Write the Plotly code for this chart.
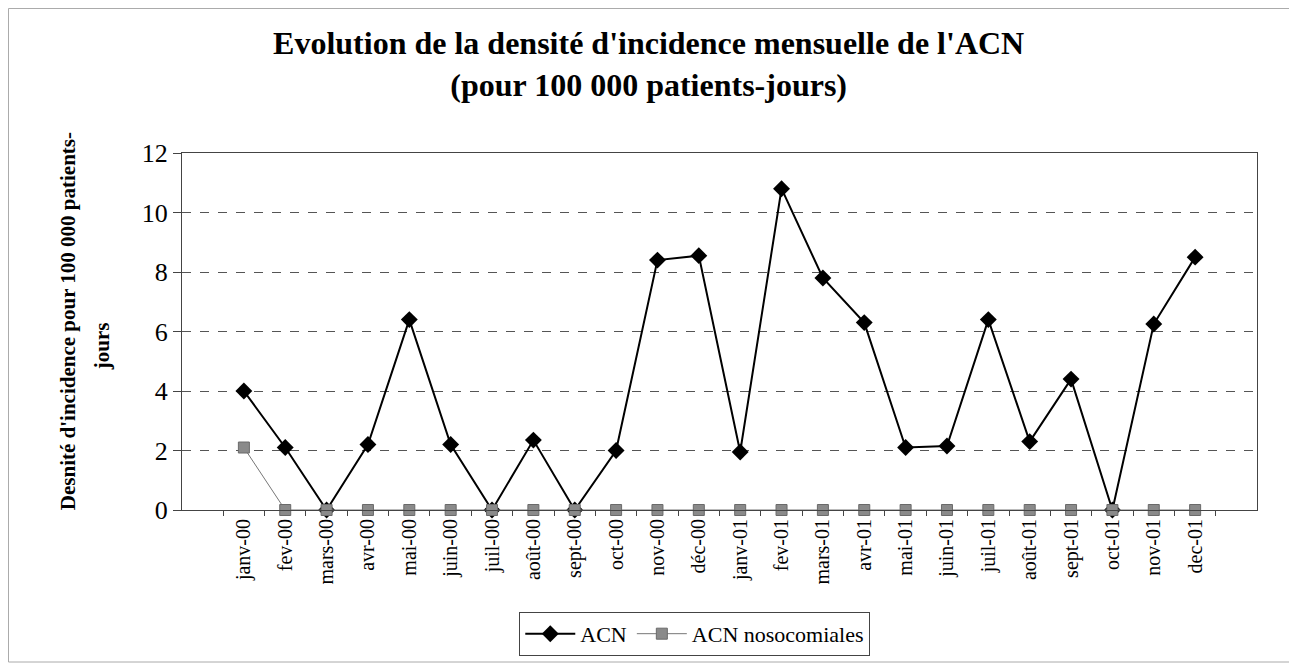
import plotly.graph_objects as go

# Mois (axe des x)
mois = ['janv-00', 'fev-00', 'mars-00', 'avr-00', 'mai-00', 'juin-00', 'juil-00', 'août-00',
        'sept-00', 'oct-00', 'nov-00', 'déc-00', 'janv-01', 'fev-01', 'mars-01', 'avr-01',
        'mai-01', 'juin-01', 'juil-01', 'août-01', 'sept-01', 'oct-01', 'nov-01', 'dec-01']

# Densité d'incidence pour 100 000 patients-jours
acn = [4.0, 2.1, 0, 2.2, 6.4, 2.2, 0, 2.35, 0, 2.0, 8.4, 8.55,
       1.95, 10.8, 7.8, 6.3, 2.1, 2.15, 6.4, 2.3, 4.4, 0, 6.25, 8.5]
acn_noso = [2.1, 0, 0, 0, 0, 0, 0, 0, 0, 0, 0, 0,
            0, 0, 0, 0, 0, 0, 0, 0, 0, 0, 0, 0]

serif = 'Liberation Serif'

fig = go.Figure()

fig.add_trace(go.Scatter(
    x=mois, y=acn, name='ACN', mode='lines+markers',
    line=dict(color='black', width=2),
    marker=dict(symbol='diamond', size=13, color='black'),
    cliponaxis=False,
))

fig.add_trace(go.Scatter(
    x=mois, y=acn_noso, name='ACN nosocomiales', mode='lines+markers',
    line=dict(color='#777777', width=1),
    marker=dict(symbol='square', size=11, color='#8a8a8a',
                line=dict(color='#6a6a6a', width=1)),
    cliponaxis=False,
))

# Cadre extérieur
fig.add_shape(type='rect', xref='paper', yref='paper',
              x0=-0.1614, x1=1.0307, y0=-0.4258, y1=1.4048,
              line=dict(color='#aaaaaa', width=1))

# Titre de l'axe y (deux lignes)
fig.add_annotation(text="<b>Desnité d'incidence pour 100 000 patients-</b>", textangle=-90,
                   xref='paper', yref='paper', x=-0.106, y=0.529,
                   xanchor='center', yanchor='middle',
                   showarrow=False, font=dict(family=serif, size=21, color='black'))
fig.add_annotation(text="<b>jours</b>", textangle=-90,
                   xref='paper', yref='paper', x=-0.0744, y=0.459,
                   xanchor='center', yanchor='middle',
                   showarrow=False, font=dict(family=serif, size=21, color='black'))

fig.update_layout(
    width=1289, height=661,
    margin=dict(l=174, r=40, t=145, b=159),
    paper_bgcolor='white', plot_bgcolor='white',
    title=dict(
        text="<b>Evolution de la densité d'incidence mensuelle de l'ACN<br>(pour 100 000 patients-jours)</b>",
        x=0.497, xanchor='center', yref='container', y=0.93, yanchor='middle',
        font=dict(family=serif, size=32, color='black'),
    ),
    xaxis=dict(
        type='category', tickangle=-90, tickson='boundaries',
        ticks='outside', ticklen=5, tickcolor='#444',
        showline=True, linecolor='#444', linewidth=1, mirror=True,
        showgrid=False, tickfont=dict(family=serif, size=20, color='black'),
    ),
    yaxis=dict(
        range=[0, 12], dtick=2, ticks='outside', ticklen=8, tickcolor='#444',
        showline=True, linecolor='#444', linewidth=1, mirror=True,
        showgrid=True, gridcolor='#555555', griddash='dash', gridwidth=1,
        zeroline=False, tickfont=dict(family=serif, size=26, color='black'),
    ),
    legend=dict(
        orientation='h', x=0.477, xanchor='center', y=-0.347, yanchor='middle',
        bordercolor='#444', borderwidth=1,
        font=dict(family=serif, size=22, color='black'),
        itemwidth=50,
    ),
)

fig.write_html("out.html")
